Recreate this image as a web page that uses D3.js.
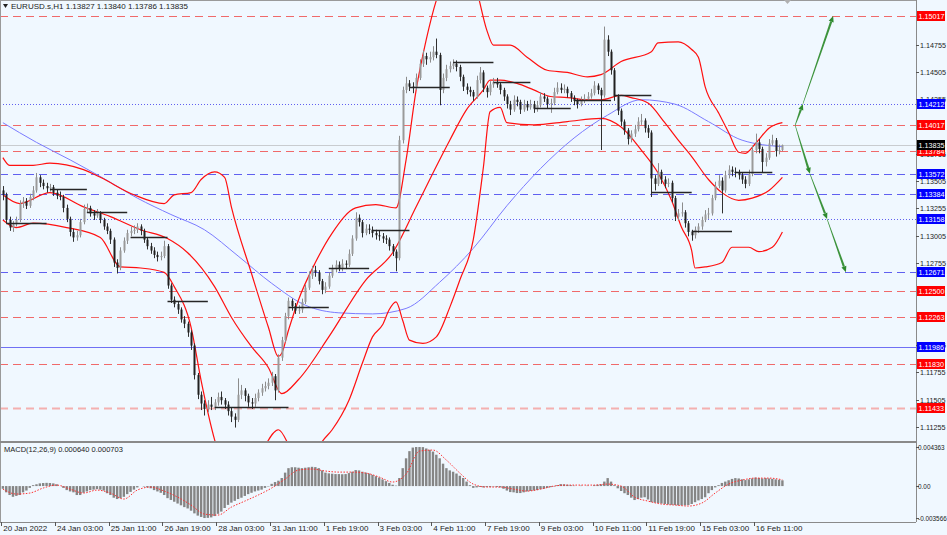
<!DOCTYPE html>
<html>
<head>
<meta charset="utf-8">
<script src="https://cdn.jsdelivr.net/npm/d3@7/dist/d3.min.js"></script>
<style>
    body { margin: 0; background: #f0f8ff; }
    text { font-family: "Liberation Sans", Arial, sans-serif; }
</style>
</head>
<body>
<div id="chart-area"></div>
<script>
/*
*    EURUSD.s H1 with bands, MA, levels and MACD
*/

// bar prices are stored in pips above 1.1000, one bar = 2 hours, [open, high, low, close]
var base = 1.1;
var bars = [
    [342,346,333,338],[338,340,312,315],[315,318,305,308],[308,314,304,311],[311,318,309,315],[315,333,313,330],[330,336,326,332],[332,335,325,328],[328,339,326,336],[336,346,333,342],
    [342,358,340,354],[354,356,345,349],[349,352,343,346],[346,349,340,344],[344,348,341,345],[345,347,337,340],[340,343,334,337],[337,341,333,336],[336,338,322,326],[326,329,313,316],
    [316,318,300,304],[304,307,295,299],[299,305,296,301],[301,316,299,313],[313,329,311,325],[325,330,322,326],[326,328,318,321],[321,324,315,319],[319,325,317,321],[321,323,312,315],
    [315,317,306,309],[309,312,302,305],[305,307,293,297],[297,299,272,276],[276,279,266,271],[271,290,269,287],[287,299,285,296],[296,306,293,303],[303,309,300,305],[305,310,302,306],
    [306,312,303,309],[309,311,301,305],[305,307,294,297],[297,299,288,291],[291,294,284,287],[287,290,280,283],[283,286,277,281],[281,286,278,282],[282,296,280,291],[291,293,252,255],
    [255,257,239,242],[242,245,235,238],[238,240,229,233],[233,235,221,224],[224,227,216,220],[220,222,208,212],[212,214,196,200],[200,202,169,173],[173,175,151,155],[155,158,141,147],
    [147,150,136,142],[142,150,139,146],[146,153,141,144],[144,151,141,148],[148,157,145,153],[153,158,146,150],[150,152,142,146],[146,149,136,140],[140,143,130,135],[135,138,125,132],
    [132,170,130,155],[155,164,151,159],[159,161,149,154],[154,156,144,148],[148,152,142,147],[147,156,144,152],[152,160,149,157],[157,165,154,161],[161,167,158,163],[163,170,160,166],
    [166,176,163,172],[172,174,150,159],[159,192,157,189],[189,208,186,205],[205,230,203,227],[227,244,224,241],[241,243,232,236],[236,239,229,232],[232,237,229,233],[233,243,230,240],
    [240,256,238,253],[253,268,251,264],[264,273,261,269],[269,273,263,267],[267,269,256,259],[259,261,247,251],[251,258,248,254],[254,267,252,264],[264,274,262,270],[270,278,267,274],
    [274,277,268,271],[271,279,268,275],[275,278,270,274],[274,288,272,284],[284,301,282,298],[298,322,296,317],[317,320,309,313],[313,315,299,303],[303,311,301,307],[307,311,302,306],
    [306,309,299,303],[303,306,297,301],[301,305,296,300],[300,303,294,298],[298,301,293,297],[297,299,287,291],[291,293,282,286],[286,288,268,280],[280,392,278,388],[388,437,385,434],
    [434,446,431,440],[440,443,433,437],[437,441,431,436],[436,449,434,445],[445,462,443,458],[458,470,455,465],[465,468,457,462],[462,469,459,464],[464,474,461,469],[469,481,463,466],
    [466,468,420,434],[434,449,431,445],[445,457,442,453],[453,460,450,456],[456,462,453,458],[458,461,451,455],[455,457,442,446],[446,448,433,437],[437,440,430,434],[434,437,428,432],
    [432,434,424,428],[428,447,426,443],[443,455,440,450],[450,452,432,436],[436,438,427,432],[432,442,429,439],[439,445,436,441],[441,445,436,439],[439,441,430,434],[434,436,424,428],
    [428,430,417,421],[421,424,411,416],[416,429,414,425],[425,428,419,423],[423,425,412,416],[416,425,414,421],[421,424,415,418],[418,425,416,421],[421,424,413,417],[417,424,414,420],
    [420,432,418,428],[428,431,423,426],[426,428,417,421],[421,426,413,422],[422,436,420,432],[432,441,430,436],[436,440,431,434],[434,439,431,435],[435,437,427,431],[431,433,423,427],
    [427,429,420,424],[424,426,417,421],[421,428,419,424],[424,430,422,426],[426,432,424,428],[428,435,426,431],[431,442,429,438],[438,440,430,434],[434,436,379,429],[429,492,427,480],
    [480,484,465,469],[469,471,448,452],[452,454,424,428],[428,430,411,415],[415,417,401,405],[405,407,393,397],[397,399,384,389],[389,397,386,394],[394,402,391,398],[398,409,396,405],
    [405,412,402,406],[406,408,395,399],[399,402,390,395],[395,397,336,353],[353,356,342,348],[348,367,346,359],[359,361,348,352],[352,355,344,348],[348,353,345,349],[349,351,331,335],
    [335,337,314,318],[318,325,315,321],[321,331,318,322],[322,324,308,312],[312,314,300,304],[304,306,296,301],[301,309,298,306],[306,312,303,309],[309,318,306,315],[315,324,313,320],
    [320,326,316,321],[321,338,319,335],[335,350,333,346],[346,356,344,351],[351,354,321,342],[342,360,340,356],[356,365,353,361],[361,364,355,359],[359,363,354,358],[358,361,352,356],
    [356,358,348,352],[352,355,344,348],[348,361,346,357],[357,383,355,379],[379,394,376,386],[386,389,376,380],[380,382,358,368],[368,376,364,372],[372,389,370,385],[385,393,383,388],
    [388,390,373,378],[378,384,375,379],[379,384,378,383.5]
];

// [bar, pips]
var maLine = [[0,404],[10,386],[20,370],[30,353],[40,335],[50,320],[60,306],[70,282],[80,257],[90,237],[100,230],[110,229],[120,234],[130,258],[140,289],[150,328],[160,362],[170,390],[180,411],[190,425],[200,421],[210,405],[220,388],[232,382]];

var upperBand = [[0,372],[2,365],[9,365],[14,367],[24,361],[29,354],[39,338],[48,330],[51,338],[56,340],[59,352],[63,359],[66,354],[68,327],[74,266],[79,217],[82,190],[83,193],[85,214],[88,242],[93,276],[98,303],[105,326],[111,329],[117,326],[120,370],[123,434],[126,480],[129,516],[133,544],[137,553],[141,525],[144,489],[146,475],[151,475],[156,464],[162,452],[168,450],[174,446],[178,448],[184,460],[193,469],[195,477],[201,478],[205,471],[207,464],[209,437],[213,413],[216,395],[219,377],[221,376],[224,385],[228,399],[232,404]];

var middleBand = [[0,338],[5,330],[14,340],[24,327],[32,318],[41,306],[49,298],[55,285],[63,254],[68,226],[74,199],[79,180],[83,156],[88,169],[97,208],[108,260],[116,285],[123,327],[128,358],[133,388],[138,416],[143,434],[145,443],[148,443],[153,440],[158,434],[163,428],[168,427],[174,425],[178,425],[184,429],[187,427],[192,422],[197,404],[201,388],[205,373],[210,352],[214,340],[219,333],[223,335],[228,342],[232,354]];

var lowerBand = [[0,315],[4,308],[9,312],[19,308],[29,299],[35,272],[41,271],[48,267],[51,254],[56,217],[59,168],[63,114],[66,86],[72,77],[77,103],[82,123],[86,104],[91,88],[95,112],[98,123],[103,150],[107,184],[110,208],[113,219],[115,233],[117,240],[119,223],[121,205],[125,202],[129,208],[133,235],[136,260],[140,297],[143,363],[145,414],[148,418],[150,404],[158,402],[168,405],[178,408],[184,400],[190,379],[195,358],[199,333],[202,308],[205,287],[206,271],[209,272],[214,276],[217,290],[222,290],[225,286],[229,290],[232,304]];

// daily marks
var dayStart = [1,14,25,38,49,63,85,97,110,121,134,146,158,170,182,193,205,218];
var dayEnd   = [13,25,37,49,61,85,97,109,121,133,146,157,169,181,193,205,217,229];
var dayLevel = [312,343,322,299,241,144,235,271,306,437,460,441,417,425,429,341,305,359];

var redLevels = [1.15017, 1.14017, 1.13784, 1.12500, 1.12263, 1.11830];
var pinkLevels = [1.11433];
var blueDashLevels = [1.13572, 1.13384, 1.12671];
var blueDotLevels = [1.14212, 1.13158];
var blueSolidLevels = [1.11986];
var lastPrice = 1.13835;

// ticks that the level labels would hide completely are left out
var priceTicks = [1.11255,1.11505,1.11755,1.12005,1.12755,1.13005,1.13255,1.13505,1.13755,1.14255,1.14505,1.14755];

var timeLabels = ["20 Jan 2022","24 Jan 03:00","25 Jan 11:00","26 Jan 19:00","28 Jan 03:00","31 Jan 11:00","1 Feb 19:00","3 Feb 03:00","4 Feb 11:00","7 Feb 19:00","9 Feb 03:00","10 Feb 11:00","11 Feb 19:00","15 Feb 03:00","16 Feb 11:00"];
var timeTickBars = [-0.5,15.5,31.5,47.5,63.5,79.5,95.5,111.5,127.5,143.5,159.5,175.5,191.5,207.5,223.5];

// MACD histogram in units of 0.0001, one per bar
var macdHist = [
    -3,-7,-10,-12,-11,-10,-7,-5,-2,1,
    2,3,3.4,3.6,3.4,3,2,0,-2,-4.5,
    -6,-7,-10,-10,-7.5,-6,-4.5,-4,-3.4,-4,
    -5,-8,-10,-13,-14.5,-13.5,-12,-9,-6.5,-4,
    -1.5,0,-0.5,-1.5,-2.5,-4.5,-6,-7.5,-10,-13.5,
    -15.5,-17.5,-19.5,-21.5,-23.5,-25,-27.5,-30.5,-33,-34.5,
    -35.7,-35.5,-35,-33.5,-31,-28.5,-24.5,-21,-18.5,-16.5,
    -14.5,-13,-11,-9,-7.5,-6,-5,-4,-2,-0.5,
    2.5,4.5,6,9,15,20,21,21,20.5,20,
    20.5,21,21.5,21.2,20,17.5,15,14.2,13.8,13.4,
    13.4,13.2,13.4,14.5,16,17.9,17.5,16,15,14,
    12.5,11,9.5,7.5,5.5,3.5,1.5,0.5,9,20,
    31,39,43,43.6,43.6,43.5,42,40.5,38.5,35,
    31,25,20,17.5,16,14,11.5,9,5,1,
    -2,-1.5,-1,-1.5,-1,-1,-0.5,-1,-1.5,-3,
    -5,-6.7,-7,-7.8,-7.8,-7,-6,-5.5,-5,-4.5,
    -3.5,-3,-2,-1.2,-0.5,1,2.2,2,1.5,1,
    0.5,0,0.5,0,0.5,0,1,1.5,2,5,
    8.9,5,1,-2.5,-5.5,-8,-10,-13,-15.6,-14.5,
    -13,-12.5,-15,-17.9,-18.5,-19,-19.5,-20,-20.5,-21,
    -21.2,-21.5,-21.5,-21.5,-21.2,-20,-18,-16,-14.5,-12.5,
    -8,-4.5,-1.5,1,3.5,5,6.5,8,8.9,8.5,
    7.5,6.7,7.5,8.5,9.5,9,8.5,8.9,8.5,8,
    7.5,7,6.4
];
// signal line, one value every 4 bars
var macdSignal = [
    -3.4,-8.9,-7.8,-2.2,1.1,-3.4,-7.8,-4.5,-7.8,-14.5,
    -4.5,-1.1,-5.6,-12.3,-21.2,-31.3,-32.4,-23.5,-16.8,-10,
    -2.2,7.8,17.9,19,16.8,15.6,15.6,14.5,10.1,4.5,
    13.4,39.1,40.2,29,14.5,2.2,-1.1,-1.1,-3.4,-5.6,
    -3.4,0,1.1,1.1,1.1,2.2,0,-12.3,-16.8,-20.1,
    -21.2,-22.3,-19,-7.8,2.2,6.7,8.9,8.9,7.0
];
var macdTicks = [0.004363, 0, -0.003566];
var macdTickText = ["0.004363", "0.00", "-0.003566"];

// projected paths [bar, price]
var forecastUp = [[235.8, 1.14017], [238.1, 1.14212], [247.1, 1.15017]];
var forecastDown = [[235.8, 1.14017], [240.2, 1.13572], [245.3, 1.13158], [250.9, 1.12671]];

var width = 947, height = 535;
var plotRight = 916;
var mainBottom = 441, macdTop = 443, macdBottom = 522;

var svg = d3.select("#chart-area")
    .append("svg")
        .attr("width", width)
        .attr("height", height)
        .style("display", "block");

svg.append("rect")
    .attr("width", width)
    .attr("height", height)
    .attr("fill", "#f0f8ff");

var x = d3.scaleLinear().domain([0, 272]).range([2.88, 2.88 + 3.36 * 272]);
var y = d3.scaleLinear().domain([1.11136, 1.15163]).range([440, 0]);
var yM = d3.scaleLinear().domain([-0.003566, 0.004363]).range([518, 447]);

function py(p) { return y(base + p / 10000); }

var defs = svg.append("defs");
defs.append("clipPath").attr("id", "clip-main")
    .append("rect").attr("x", 0).attr("y", 0).attr("width", plotRight).attr("height", mainBottom);
defs.append("clipPath").attr("id", "clip-macd")
    .append("rect").attr("x", 0).attr("y", macdTop).attr("width", plotRight).attr("height", macdBottom - macdTop);

var main = svg.append("g").attr("clip-path", "url(#clip-main)");

// horizontal levels
function levels(data, color, dash, w) {
    main.selectAll(null)
        .data(data)
        .enter()
        .append("line")
            .attr("x1", 0)
            .attr("x2", plotRight)
            .attr("y1", function(d){ return Math.round(y(d)) + 0.5; })
            .attr("y2", function(d){ return Math.round(y(d)) + 0.5; })
            .attr("stroke", color)
            .attr("stroke-width", w)
            .attr("stroke-dasharray", dash);
}
levels([lastPrice], "#c9ccd0", null, 1);
levels(redLevels, "#f06a6a", "8,5", 1);
levels(pinkLevels, "#f4b0b0", "8,5", 2);
levels(blueDashLevels, "#6060f0", "8,5", 1);
levels(blueDotLevels, "#6060f0", "1,2", 1);
levels(blueSolidLevels, "#7070f4", null, 1);

var curveLine = d3.line()
    .x(function(d){ return x(d[0]); })
    .y(function(d){ return py(d[1]); })
    .curve(d3.curveMonotoneX);

main.append("path")
    .attr("d", curveLine(maLine))
    .attr("fill", "none")
    .attr("stroke", "#7b7bff")
    .attr("stroke-width", 1);

[upperBand, middleBand, lowerBand].forEach(function(band){
    main.append("path")
        .attr("d", curveLine(band))
        .attr("fill", "none")
        .attr("stroke", "#ff1010")
        .attr("stroke-width", 1.2);
});

// bars
var candles = main.selectAll(".bar")
    .data(bars)
    .enter()
    .append("g")
        .attr("class", "bar");

candles.append("line")
    .attr("x1", function(d, i){ return Math.round(x(i)) + 0.5; })
    .attr("x2", function(d, i){ return Math.round(x(i)) + 0.5; })
    .attr("y1", function(d){ return py(d[1]); })
    .attr("y2", function(d){ return py(d[2]); })
    .attr("stroke", function(d){ return d[3] >= d[0] ? "#8c8c8c" : "#303030"; })
    .attr("stroke-width", 1);

candles.append("rect")
    .attr("x", function(d, i){ return Math.round(x(i)) - 0.5; })
    .attr("width", 2)
    .attr("y", function(d){ return py(Math.max(d[0], d[3])); })
    .attr("height", function(d){ return Math.max(1, Math.abs(py(d[0]) - py(d[3]))); })
    .attr("fill", function(d){ return d[3] >= d[0] ? "#9a9a9a" : "#202020"; });

main.selectAll(".day")
    .data(dayLevel)
    .enter()
    .append("line")
        .attr("x1", function(d, i){ return x(dayStart[i]); })
        .attr("x2", function(d, i){ return x(dayEnd[i]); })
        .attr("y1", function(d){ return Math.round(py(d)) + 0.5; })
        .attr("y2", function(d){ return Math.round(py(d)) + 0.5; })
        .attr("stroke", "#262626")
        .attr("stroke-width", 1.4);

// projected arrows, tapering segments with heads
function arrowPath(path) {
    for (var k = 1; k < path.length; k++) {
        var x0 = x(path[k-1][0]), y0 = y(path[k-1][1]);
        var x1 = x(path[k][0]), y1 = y(path[k][1]);
        var a = Math.atan2(y1 - y0, x1 - x0);
        var nx = -Math.sin(a), ny = Math.cos(a);
        var bx = x1 - Math.cos(a) * 6, by = y1 - Math.sin(a) * 6;
        main.append("path")
            .attr("d", "M" + (x0 + nx * 0.3) + "," + (y0 + ny * 0.3) +
                "L" + (bx + nx * 1.1) + "," + (by + ny * 1.1) +
                "L" + (bx - nx * 1.1) + "," + (by - ny * 1.1) +
                "L" + (x0 - nx * 0.3) + "," + (y0 - ny * 0.3) + "Z")
            .attr("fill", "#3c933c");
        main.append("path")
            .attr("d", "M" + x1 + "," + y1 +
                "L" + (bx + nx * 2.6) + "," + (by + ny * 2.6) +
                "L" + (bx - nx * 2.6) + "," + (by - ny * 2.6) + "Z")
            .attr("fill", "#2f8a2f");
    }
}
arrowPath(forecastUp);
arrowPath(forecastDown);

// MACD panel
var macd = svg.append("g").attr("clip-path", "url(#clip-macd)");

macd.selectAll("rect")
    .data(macdHist)
    .enter()
    .append("rect")
        .attr("x", function(d, i){ return x(i) - 1.2; })
        .attr("width", 2.4)
        .attr("y", function(d){ return Math.min(yM(d / 10000), yM(0)); })
        .attr("height", function(d){ return Math.abs(yM(d / 10000) - yM(0)); })
        .attr("fill", "#858585");

var sigLine = d3.line()
    .x(function(d, i){ return x(i * 4); })
    .y(function(d){ return yM(d / 10000); })
    .curve(d3.curveMonotoneX);

macd.append("path")
    .attr("d", sigLine(macdSignal))
    .attr("fill", "none")
    .attr("stroke", "#ff3030")
    .attr("stroke-width", 1)
    .attr("stroke-dasharray", "1.5,1.5");

svg.append("text")
    .attr("x", 4)
    .attr("y", 452)
    .attr("font-size", "7.5px")
    .attr("fill", "#222")
    .text("MACD(12,26,9) 0.000640 0.000703");

// frame
svg.append("line").attr("x1", 0).attr("x2", plotRight).attr("y1", 0.5).attr("y2", 0.5).attr("stroke", "#9a9a9a");
svg.append("line").attr("x1", 0.5).attr("x2", 0.5).attr("y1", 0).attr("y2", macdBottom).attr("stroke", "#9a9a9a");
svg.append("line").attr("x1", plotRight + 0.5).attr("x2", plotRight + 0.5).attr("y1", 0).attr("y2", macdBottom).attr("stroke", "#8a8a8a");
svg.append("line").attr("x1", 0).attr("x2", plotRight).attr("y1", 442).attr("y2", 442).attr("stroke", "#8a8a8a").attr("stroke-width", 2);
svg.append("line").attr("x1", 0).attr("x2", plotRight).attr("y1", macdBottom + 0.5).attr("y2", macdBottom + 0.5).attr("stroke", "#8a8a8a");

// price axis
var pt = svg.append("g");
pt.selectAll("line")
    .data(priceTicks)
    .enter()
    .append("line")
        .attr("x1", plotRight)
        .attr("x2", plotRight + 3)
        .attr("y1", function(d){ return Math.round(y(d)) + 0.5; })
        .attr("y2", function(d){ return Math.round(y(d)) + 0.5; })
        .attr("stroke", "#555");
pt.selectAll("text")
    .data(priceTicks)
    .enter()
    .append("text")
        .attr("x", 920)
        .attr("y", function(d){ return y(d) + 3; })
        .attr("font-size", "7.2px")
        .attr("fill", "#222")
        .text(function(d){ return d.toFixed(5); });

function priceLabels(data, color) {
    var g = svg.append("g");
    g.selectAll("rect")
        .data(data)
        .enter()
        .append("rect")
            .attr("x", 917)
            .attr("y", function(d){ return Math.round(y(d)) - 5; })
            .attr("width", 28)
            .attr("height", 10)
            .attr("fill", color);
    g.selectAll("text")
        .data(data)
        .enter()
        .append("text")
            .attr("x", 918.5)
            .attr("y", function(d){ return Math.round(y(d)) + 3; })
            .attr("font-size", "7.2px")
            .attr("fill", "#fff")
            .text(function(d){ return d.toFixed(5); });
}
priceLabels(redLevels, "#ff0000");
priceLabels(pinkLevels, "#ff0000");
priceLabels(blueDashLevels, "#0000ff");
priceLabels(blueDotLevels, "#0000ff");
priceLabels(blueSolidLevels, "#0000ff");
priceLabels([lastPrice], "#000000");

// MACD axis
svg.selectAll(".mtick")
    .data(macdTicks)
    .enter()
    .append("line")
        .attr("x1", plotRight)
        .attr("x2", plotRight + 3)
        .attr("y1", function(d){ return Math.round(yM(d)) + 0.5; })
        .attr("y2", function(d){ return Math.round(yM(d)) + 0.5; })
        .attr("stroke", "#555");
svg.selectAll(".mlabel")
    .data(macdTicks)
    .enter()
    .append("text")
        .attr("x", 918)
        .attr("y", function(d){ return yM(d) + 3; })
        .attr("font-size", "6.4px")
        .attr("fill", "#222")
        .text(function(d, i){ return macdTickText[i]; });

// time axis
var tt = svg.append("g");
tt.selectAll("line")
    .data(timeTickBars)
    .enter()
    .append("line")
        .attr("x1", function(d){ return Math.round(x(d)) + 0.5; })
        .attr("x2", function(d){ return Math.round(x(d)) + 0.5; })
        .attr("y1", macdBottom)
        .attr("y2", macdBottom + 4)
        .attr("stroke", "#555");
tt.selectAll("text")
    .data(timeTickBars)
    .enter()
    .append("text")
        .attr("x", function(d){ return x(d) + 2; })
        .attr("y", 531)
        .attr("font-size", "8px")
        .attr("fill", "#222")
        .text(function(d, i){ return timeLabels[i]; });

// header
svg.append("path")
    .attr("d", "M3,4L8,4L5.5,8Z")
    .attr("fill", "#222");
svg.append("text")
    .attr("x", 11)
    .attr("y", 9)
    .attr("font-size", "8px")
    .attr("fill", "#222")
    .text("EURUSD.s,H1  1.13827 1.13840 1.13786 1.13835");
svg.append("path")
    .attr("d", "M784,0L791,0L787.5,4Z")
    .attr("fill", "#b0b0b0");
</script>
</body>
</html>
